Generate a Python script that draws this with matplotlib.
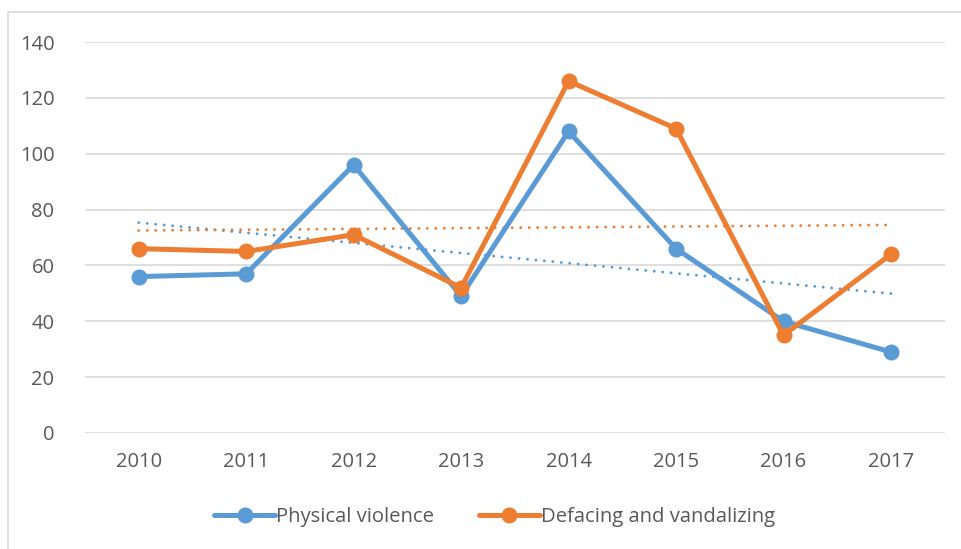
import matplotlib
matplotlib.use("Agg")
import matplotlib.pyplot as plt
import numpy as np
from matplotlib.lines import Line2D

years = ["2010", "2011", "2012", "2013", "2014", "2015", "2016", "2017"]
physical = [56, 57, 96, 49, 108, 66, 40, 29]
defacing = [66, 65, 71, 52, 126, 109, 35, 64]
yticks = [0, 20, 40, 60, 80, 100, 120, 140]

blue = "#5B9BD5"
orange = "#ED7D31"
plt.rcParams['font.family'] = ['Open Sans', 'DejaVu Sans']

fig = plt.figure(figsize=(9.62, 5.49), dpi=100)
ax = fig.add_axes([85/962, 1-433/549, (944.7-85)/962, (433-42)/549])
x = np.arange(len(years))

for vals, c, lab in [(physical, blue, "Physical violence"), (defacing, orange, "Defacing and vandalizing")]:
    ax.plot(x, vals, color=c, lw=3.6, marker='o', ms=10.5, label=lab, zorder=3, solid_capstyle='round')
    p = np.polyfit(x, vals, 1)
    ax.plot(x, np.polyval(p, x), color=c, lw=2.1, ls=(0, (0.01, 2.9)), zorder=2, dash_capstyle='round')

ax.set_xlim(-0.5, len(years) - 0.5)
ax.set_ylim(0, 140)
ax.set_yticks(yticks)
ax.set_xticks(x)
ax.set_xticklabels(years)
ax.grid(axis='y', color='#D9D9D9', lw=1.2)
ax.set_axisbelow(True)
for s in ax.spines.values():
    s.set_visible(False)
ax.tick_params(length=0, labelsize=14.5, colors='#595959')
ax.tick_params(axis='y', pad=22)
ax.tick_params(axis='x', pad=14)

leg = ax.legend(loc='center', bbox_to_anchor=(0.514, 1 - 517/549), bbox_transform=fig.transFigure,
                ncol=2, frameon=False, fontsize=14.6, handlelength=3.0, columnspacing=2.2,
                handletextpad=0.05, labelcolor='#595959')

fig.add_artist(Line2D([8/962, 8/962, 1.02], [-0.02, 1-12/549, 1-12/549], transform=fig.transFigure,
                      color='#D9D9D9', lw=1.2))
fig.savefig("out.png", dpi=100)
